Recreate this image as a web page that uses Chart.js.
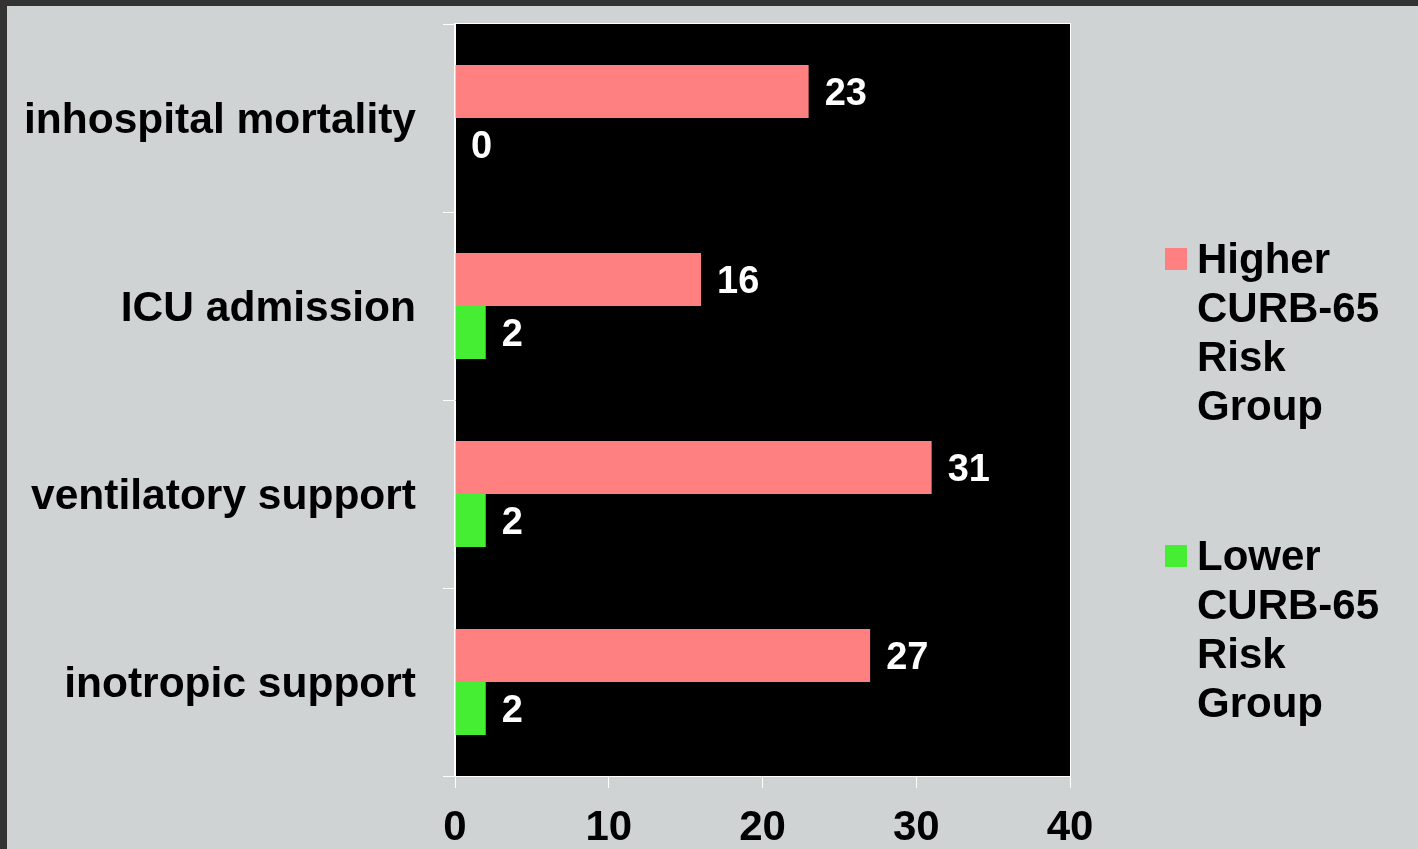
<!DOCTYPE html>
<html>
<head>
<meta charset="utf-8">
<script src="https://cdn.jsdelivr.net/npm/chart.js@4"></script>
<style>
  html, body { margin: 0; padding: 0; }
  body { width: 1418px; height: 849px; background: #333333; overflow: hidden; position: relative; }
  #wrap { position: absolute; left: 7px; top: 6px; width: 1411px; height: 843px; background: #d0d3d4; }
  #legend { position: absolute; left: 0; top: 0; font-family: "Liberation Sans", Arial, sans-serif; font-weight: bold; font-size: 42px; line-height: 49px; color: #000; }
  .item { position: absolute; white-space: nowrap; }
  .box { position: absolute; left: -32px; width: 22px; height: 22px; }
</style>
</head>
<body>
<div id="wrap">
  <canvas id="chart"></canvas>
</div>
<div id="legend"></div>
<script>
const categories = ['inhospital mortality', 'ICU admission', 'ventilatory support', 'inotropic support'];
const higherRisk = [23, 16, 31, 27];
const lowerRisk = [0, 2, 2, 2];
const seriesNames = [['Higher', 'CURB-65', 'Risk', 'Group'], ['Lower', 'CURB-65', 'Risk', 'Group']];
const xTicks = [0, 10, 20, 30, 40];

const FONT = '"Liberation Sans", Arial, sans-serif';

// black plot area with a thin white frame
const plotBg = {
  id: 'plotBg',
  beforeDraw(chart) {
    const { ctx, chartArea: a } = chart;
    ctx.save();
    ctx.fillStyle = '#000';
    ctx.fillRect(a.left, a.top, a.right - a.left, a.bottom - a.top);
    ctx.restore();
  },
  afterDraw(chart) {
    const { ctx, chartArea: a } = chart;
    ctx.save();
    ctx.strokeStyle = '#fff';
    ctx.lineWidth = 1;
    ctx.strokeRect(a.left - 0.5, a.top - 0.5, a.right - a.left + 1, a.bottom - a.top + 1);
    ctx.restore();
  }
};

// value labels to the right of each bar
const valueLabels = {
  id: 'valueLabels',
  afterDatasetsDraw(chart) {
    const ctx = chart.ctx;
    ctx.save();
    ctx.fillStyle = '#fff';
    ctx.font = 'bold 38px ' + FONT;
    ctx.textAlign = 'left';
    ctx.textBaseline = 'middle';
    chart.data.datasets.forEach((ds, i) => {
      chart.getDatasetMeta(i).data.forEach((bar, j) => {
        ctx.fillText(String(ds.data[j]), bar.x + 16, bar.y + 3);
      });
    });
    ctx.restore();
  }
};

const chart = new Chart(document.getElementById('chart'), {
  type: 'bar',
  data: {
    labels: categories,
    datasets: [{
      label: seriesNames[0].join(' '),
      data: higherRisk,
      backgroundColor: '#ff8080',
      categoryPercentage: 0.564,
      barPercentage: 1.0
    }, {
      label: seriesNames[1].join(' '),
      data: lowerRisk,
      backgroundColor: '#46ee33',
      categoryPercentage: 0.564,
      barPercentage: 1.0
    }]
  },
  options: {
    indexAxis: 'y',
    responsive: true,
    maintainAspectRatio: false,
    animation: false,
    layout: { padding: { top: 18, right: 348, bottom: 0, left: 0 } },
    scales: {
      x: {
        min: xTicks[0],
        max: xTicks[xTicks.length - 1],
        afterFit(s) { s.height = 73; s.paddingLeft = 0; s.paddingRight = 0; },
        afterBuildTicks(s) { s.ticks = xTicks.map(v => ({ value: v })); },
        grid: { drawOnChartArea: false, drawTicks: true, tickLength: 12, color: '#fff' },
        border: { color: '#fff', width: 1 },
        ticks: { color: '#000', padding: 15, font: { family: FONT, size: 42, weight: 'bold' } }
      },
      y: {
        afterFit(s) { s.width = 448; s.paddingTop = 0; s.paddingBottom = 0; },
        grid: { drawOnChartArea: false, drawTicks: true, tickLength: 12, color: '#fff' },
        border: { color: '#fff', width: 1 },
        ticks: { color: '#000', padding: 27, labelOffset: 3, font: { family: FONT, size: 42.5, weight: 'bold' } }
      }
    },
    plugins: {
      legend: { display: false },
      tooltip: { enabled: false }
    }
  },
  plugins: [plotBg, valueLabels]
});

// legend built from the datasets
const legend = document.getElementById('legend');
const legendTops = [234, 531];
chart.data.datasets.forEach((ds, i) => {
  const item = document.createElement('div');
  item.className = 'item';
  item.style.left = '1197px';
  item.style.top = legendTops[i] + 'px';
  const box = document.createElement('span');
  box.className = 'box';
  box.style.background = ds.backgroundColor;
  box.style.top = '14px';
  item.appendChild(box);
  item.insertAdjacentHTML('beforeend', seriesNames[i].join('<br>'));
  legend.appendChild(item);
});
</script>
</body>
</html>
